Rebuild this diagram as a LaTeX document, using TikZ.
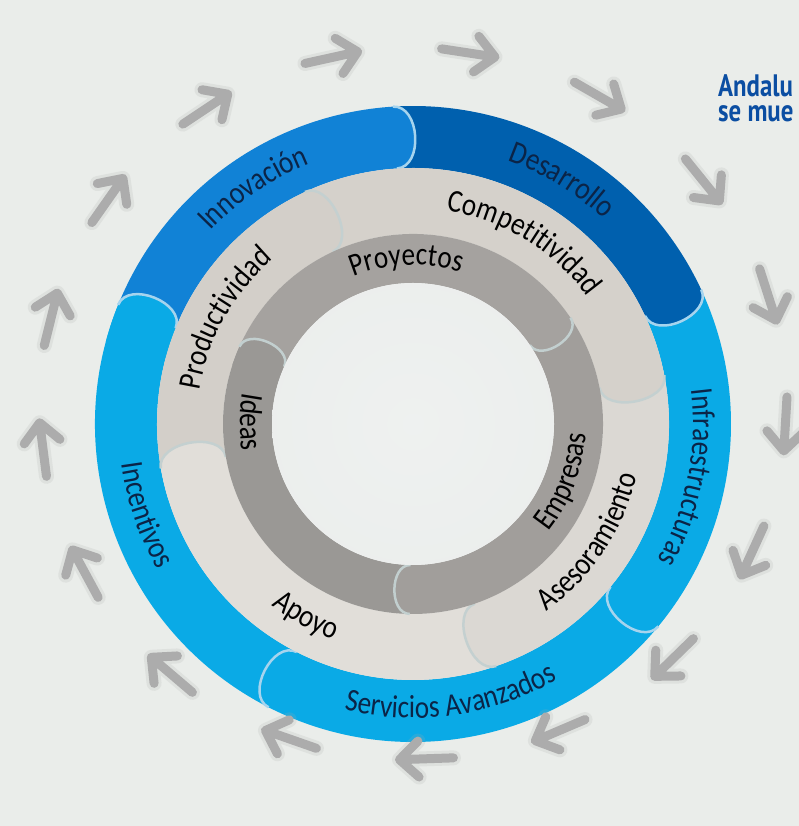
\documentclass[tikz,border=0pt]{standalone}
\usepackage{fontspec}
\usetikzlibrary{decorations.text}

\newfontfamily\ringfont{Carlito}[FakeStretch=0.85]
\newfontfamily\titlefont{PT Sans}[FakeStretch=0.8]

\definecolor{bg}{HTML}{EAEDEA}
\definecolor{midblue}{HTML}{1182D6}
\definecolor{darkblue}{HTML}{0060AE}
\definecolor{lightblue}{HTML}{0AAAE6}
\definecolor{blueedge}{HTML}{A6D4EE}
\definecolor{beigeA}{HTML}{D3CFC9}
\definecolor{beigeB}{HTML}{D5D1CB}
\definecolor{beigeC}{HTML}{DBD8D3}
\definecolor{beigeD}{HTML}{E1DED9}
\definecolor{beigeedge}{HTML}{C4D0D0}
\definecolor{grayA}{HTML}{A5A29F}
\definecolor{grayB}{HTML}{A19E9B}
\definecolor{grayC}{HTML}{9A9895}
\definecolor{grayedge}{HTML}{C2CFCF}
\definecolor{arrowgray}{HTML}{ACACAC}
\definecolor{navytext}{HTML}{0B2447}
\definecolor{titleblue}{HTML}{0B4EA2}

\newcommand{\outerfont}{\ringfont\fontsize{32}{32}\selectfont\color{navytext}}
\newcommand{\innerfont}{\ringfont\fontsize{32}{32}\selectfont\color{black}}

\pgfdeclareradialshading{ringhalo}{\pgfpoint{0bp}{0bp}}{rgb(0bp)=(0.918,0.929,0.918); rgb(38.6bp)=(0.918,0.929,0.918); rgb(38.8bp)=(0.78,0.80,0.79); rgb(41.5bp)=(0.84,0.855,0.85); rgb(47bp)=(0.918,0.929,0.918); rgb(75bp)=(0.918,0.929,0.918)}
\pgfdeclareradialshading{holeshade}{\pgfpoint{0bp}{0bp}}{rgb(0bp)=(0.935,0.945,0.94); rgb(25bp)=(0.925,0.935,0.93); rgb(45bp)=(0.85,0.865,0.87); rgb(50bp)=(0.80,0.82,0.83); rgb(75bp)=(0.80,0.82,0.83)}

\tikzset{
  arrowmark/.style={draw=arrowgray, line width=9, line cap=round, line join=round},
  arrowblur/.style={draw=arrowgray, line width=15, line cap=round, line join=round, opacity=0.18},
  lobe/.style={draw=#1, line width=2.5},
  cwtext/.style={decorate, decoration={text along path, text align=center, text={#1}}},
}

\begin{document}
\begin{tikzpicture}[x=1pt,y=1pt]
\useasboundingbox (0,0) rectangle (799,826);
\fill[bg] (0,0) rectangle (799,826);

\begin{scope}[shift={(413,402)}]
\shade[shading=ringhalo] (0,0) circle (410);

% outer ring: body, then the rounded head
\foreach \s/\e/\c in {-117/-202/lightblue,-39.5/-117/lightblue,25/-39.5/lightblue,93.6/25/darkblue,158/93.6/midblue}{
  \fill[\c] (\s:318) arc[start angle=\s, end angle=\e, radius=318]
    .. controls +(\e-90:27) and +(\e-90:27) .. (\e:256)
    arc[start angle=\e, end angle=\s, radius=256] -- cycle;
  \draw[lobe=blueedge] (\e:318) .. controls +(\e-90:27) and +(\e-90:27) .. (\e:256);
}
\fill[lightblue] (-195:318) arc[start angle=-195, end angle=-202, radius=318]
  .. controls +(-292:27) and +(-292:27) .. (-202:256)
  arc[start angle=-202, end angle=-195, radius=256] -- cycle;
\draw[lobe=blueedge] (-202:318) .. controls +(-292:27) and +(-292:27) .. (-202:256);

% middle ring
\foreach \s/\e/\c in {-71/-170/beigeD,11/-71/beigeC,115/11/beigeB,190/115/beigeA}{
  \fill[\c] (\s:256) arc[start angle=\s, end angle=\e, radius=256]
    .. controls +(\e-90:27) and +(\e-90:27) .. (\e:190)
    arc[start angle=\e, end angle=\s, radius=190] -- cycle;
  \draw[lobe=beigeedge] (\e:256) .. controls +(\e-90:27) and +(\e-90:27) .. (\e:190);
}
\fill[beigeD] (-163:256) arc[start angle=-163, end angle=-170, radius=256]
  .. controls +(-260:27) and +(-260:27) .. (-170:190)
  arc[start angle=-170, end angle=-163, radius=190] -- cycle;
\draw[lobe=beigeedge] (-170:256) .. controls +(-260:27) and +(-260:27) .. (-170:190);

% inner ring
\foreach \s/\e/\c in {-91/-204/grayC,34/-91/grayB,156/34/grayA}{
  \fill[\c] (\s:190) arc[start angle=\s, end angle=\e, radius=190]
    .. controls +(\e-90:21) and +(\e-90:21) .. (\e:141)
    arc[start angle=\e, end angle=\s, radius=141] -- cycle;
  \draw[lobe=grayedge] (\e:190) .. controls +(\e-90:21) and +(\e-90:21) .. (\e:141);
}
\fill[grayC] (-198:190) arc[start angle=-198, end angle=-204, radius=190]
  .. controls +(-294:21) and +(-294:21) .. (-204:141)
  arc[start angle=-204, end angle=-198, radius=141] -- cycle;
\draw[lobe=grayedge] (-204:190) .. controls +(-294:21) and +(-294:21) .. (-204:141);

\shade[shading=holeshade] (0,0) circle (141);

% labels, outer ring
\path[cwtext={|\outerfont|Innovación}] (184:280) arc[start angle=184, end angle=64, radius=280];
\path[cwtext={|\outerfont|Desarrollo}] (118.6:280) arc[start angle=118.6, end angle=-1.4, radius=280];
\path[cwtext={|\outerfont|Infraestructuras}] (49:280) arc[start angle=49, end angle=-71, radius=280];
\path[cwtext={|\outerfont|Servicios Avanzados}] (-142:294) arc[start angle=-142, end angle=-22, radius=294];
\path[cwtext={|\outerfont|Incentivos}] (-221.3:294) arc[start angle=-221.3, end angle=-101.3, radius=294];

% labels, middle ring
\path[cwtext={|\innerfont|Productividad}] (210.7:216) arc[start angle=210.7, end angle=90.7, radius=216];
\path[cwtext={|\innerfont|Competitividad}] (118.6:216) arc[start angle=118.6, end angle=-1.4, radius=216];
\path[cwtext={|\innerfont|Asesoramiento}] (-93.7:230) arc[start angle=-93.7, end angle=26.3, radius=230];
\path[cwtext={|\innerfont|Apoyo}] (-179:230) arc[start angle=-179, end angle=-59, radius=230];

% labels, inner ring
\path[cwtext={|\innerfont|Proyectos}] (152.4:159) arc[start angle=152.4, end angle=32.4, radius=159];
\path[cwtext={|\innerfont|Ideas}] (119.3:173) arc[start angle=119.3, end angle=239.3, radius=173];
\path[cwtext={|\innerfont|Empresas}] (-80.9:173) arc[start angle=-80.9, end angle=39.1, radius=173];
\end{scope}

% arrows round the wheel
\begin{scope}[shift={(413,422)}]
\foreach \i in {0,...,16}{
  \pgfmathsetmacro{\ang}{102.5-21.176*\i}
  \draw[arrowblur, shift={(\ang:373 and 355)}, rotate=\ang-90]
    (-28,0) -- (26,0) (7,18) -- (26,0) -- (7,-18);
  \draw[arrowmark, shift={(\ang:373 and 355)}, rotate=\ang-90]
    (-28,0) -- (26,0) (7,18) -- (26,0) -- (7,-18);
}
\end{scope}

\node[anchor=north west, align=left, inner sep=0, text=titleblue,
  font=\titlefont\bfseries\fontsize{31}{25}\selectfont] (title) at (718,752) {Andalu\\se mue};
\end{tikzpicture}
\end{document}
